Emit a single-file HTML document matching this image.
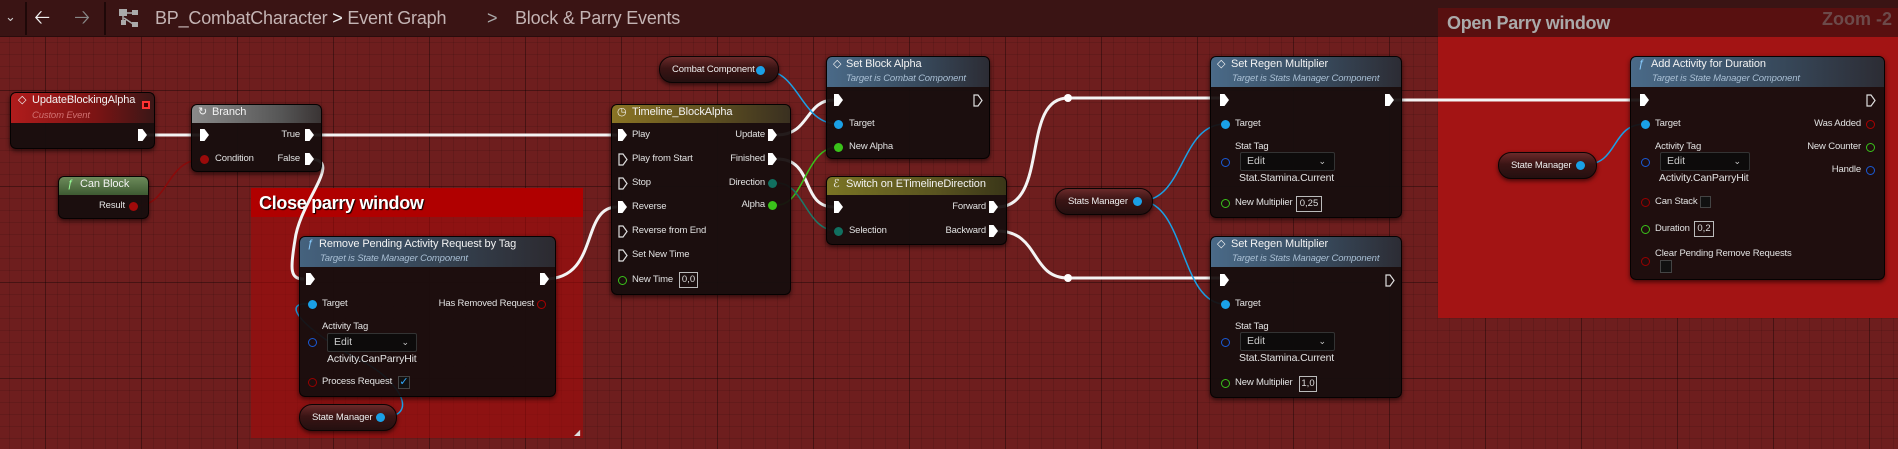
<!DOCTYPE html>
<html><head><meta charset="utf-8"><style>
*{margin:0;padding:0;box-sizing:border-box}
body{width:1898px;height:449px;overflow:hidden;position:relative;font-family:"Liberation Sans",sans-serif;
background-color:#6e1e1e;
background-image:
linear-gradient(90deg,rgba(0,0,0,.28) 0 1px,transparent 1px),
linear-gradient(0deg,rgba(0,0,0,.28) 0 1px,transparent 1px),
linear-gradient(90deg,rgba(0,0,0,.10) 0 1px,transparent 1px),
linear-gradient(0deg,rgba(0,0,0,.10) 0 1px,transparent 1px);
background-size:96px 96px,96px 96px,12px 12px,12px 12px;
background-position:45px 0,0 91px,9px 0,0 7px}
.a{position:absolute}
.top{left:0;top:0;width:1898px;height:37px;background:#3a1414;border-bottom:1px solid #2a0c0c}
.node{position:absolute;background:rgba(22,14,14,.94);border:1px solid #050202;border-radius:6px;box-shadow:0 2px 5px rgba(0,0,0,.6);overflow:hidden}
.hd{position:absolute;left:0;right:0;top:0}
.t{position:absolute;font-size:9.5px;line-height:12px;color:#e2e2e2;white-space:nowrap;letter-spacing:-0.15px}
.ti{position:absolute;font-size:11px;line-height:13px;color:#f2f2f2;white-space:nowrap;letter-spacing:-0.1px}
.st{position:absolute;font-size:9.5px;line-height:12px;font-style:italic;color:#a9bfd4;white-space:nowrap;letter-spacing:-0.15px}
.x{position:absolute;width:9px;height:12px;background:#fff;clip-path:polygon(0 0,50% 0,100% 50%,50% 100%,0 100%)}
.d{position:absolute;width:9px;height:9px;border-radius:50%}
.h{position:absolute;width:9px;height:9px;border-radius:50%;border:1.6px solid}
.box{position:absolute;border:1px solid #bbb;font-size:9.5px;color:#ddd;text-align:center;line-height:14px}
.edit{position:absolute;background:#0d0b0b;border:1px solid #333;border-radius:2px;font-size:10.5px;color:#ccc;line-height:17px;padding-left:6px}
.pill{position:absolute;border-radius:13px;background:linear-gradient(#6a2a2a,#3a1414 45%,#241010);border:1px solid #0a0404;box-shadow:0 2px 4px rgba(0,0,0,.6);font-size:9.5px;letter-spacing:-0.15px;color:#eee;line-height:26px;white-space:nowrap}
.cb{position:absolute;background:#111;border:1px solid #444}
</style></head><body>

<div class="a top"></div>
<div class="a" style="left:5px;top:9px;color:#ccc;font-size:13px">&#8964;</div>
<div class="a" style="left:25px;top:2px;width:2px;height:33px;background:#1e0808"></div>
<div class="a" style="left:34px;top:8px;color:#f0f0f0;font-size:20px;line-height:20px">&#129120;</div>
<div class="a" style="left:74px;top:8px;color:#888;font-size:20px;line-height:20px">&#129122;</div>
<div class="a" style="left:104px;top:2px;width:2px;height:33px;background:#1e0808"></div>
<svg class="a" style="left:118px;top:8px" width="22" height="22"><rect x="1" y="1" width="8" height="7" fill="#aaa"/><rect x="3" y="12" width="5" height="5" fill="#aaa"/><rect x="14" y="2" width="6" height="5" fill="#aaa"/><rect x="14" y="14" width="6" height="5" fill="#aaa"/><path d="M5 8v6M9 5h5M6 10l9 6" stroke="#aaa" stroke-width="1.5" fill="none"/></svg>
<div class="a" style="left:155px;top:7px;font-size:18px;line-height:22px;color:#c4b4b4;white-space:nowrap;letter-spacing:-0.2px">BP_CombatCharacter <span style="color:#eee">&gt;</span> Event Graph</div>
<div class="a" style="left:487px;top:7px;font-size:18px;line-height:22px;color:#aaa">&gt;</div>
<div class="a" style="left:515px;top:7px;font-size:18px;line-height:22px;color:#c4b4b4;white-space:nowrap;letter-spacing:-0.2px">Block &amp; Parry Events</div>

<!-- comments -->
<div class="a" style="left:251px;top:188px;width:332px;height:250px;background:rgba(170,10,10,.55)"></div>
<div class="a" style="left:251px;top:188px;width:332px;height:29px;background:#b00000"></div>
<div class="a" style="left:259px;top:192px;font-size:18px;font-weight:bold;color:#fff;text-shadow:1px 1px 1px #000;line-height:22px;letter-spacing:-0.3px">Close parry window</div>
<div class="a" style="left:574px;top:428px;color:#ddd;font-size:8px">◢</div>

<div class="a" style="left:1438px;top:37px;width:460px;height:281px;background:#a31414"></div>
<div class="a" style="left:1438px;top:8px;width:460px;height:29px;background:#581010"></div>
<div class="a" style="left:1447px;top:12px;font-size:18px;font-weight:bold;color:#aaa;line-height:22px;letter-spacing:-0.3px;white-space:nowrap">Open Parry window</div>
<div class="a" style="left:1822px;top:8px;font-size:18px;font-weight:bold;color:#6c4a4a;line-height:22px;white-space:nowrap">Zoom -2</div>

<!-- wires -->
<svg class="a" style="left:0;top:0" width="1898" height="449" fill="none">
<g stroke="#f4f4f4" stroke-width="3">
<path d="M146,135 H200"/>
<path d="M309,135 H617"/>
<path d="M309,159 C345,159 300,200 295,240 C290,270 290,279 304,279"/>
<path d="M545,279 C600,279 580,207 617,207"/>
<path d="M777,135 C810,135 805,100 834,100"/>
<path d="M777,159 C815,159 800,207 834,207"/>
<path d="M997,207 C1050,207 1020,98 1068,98 H1220"/>
<path d="M997,231 C1040,231 1030,278 1068,278 H1220"/>
<path d="M1393,100 H1640"/>
</g>
<circle cx="1068" cy="98" r="4" fill="#fff"/><circle cx="1068" cy="278" r="4" fill="#fff"/>
<g stroke="#1aa0e6" stroke-width="1.5">
<path d="M763,70 C800,70 800,124 838,124"/>
<path d="M383,417 C420,417 400,380 360,360 C320,340 270,300 312,304" />
<path d="M1140,201 C1185,201 1180,124 1225,124"/>
<path d="M1140,201 C1185,201 1180,304 1225,304"/>
<path d="M1583,165 C1620,165 1610,124 1645,124"/>
</g>
<path d="M777,205 C805,205 805,147 838,147" stroke="#3ac21a" stroke-width="1.5"/>
<path d="M777,183 C805,183 805,231 838,231" stroke="#1a7a6a" stroke-width="1.5"/>
<path d="M136,206 C170,206 165,159 204,159" stroke="#8a0a0a" stroke-width="1.5"/>
</svg>

<!-- UpdateBlockingAlpha -->
<div class="node" style="left:10px;top:92px;width:145px;height:57px">
<div class="hd" style="height:30px;background:linear-gradient(90deg,#b01c1c,#7a1414 60%,#3a1616)"></div></div>
<div class="ti" style="left:18px;top:94px">&#9671;</div>
<div class="ti" style="left:32px;top:94px">UpdateBlockingAlpha</div>
<div class="st" style="left:32px;top:110px;color:#d07070">Custom Event</div>
<div class="a" style="left:142px;top:101px;width:8px;height:8px;border:2px solid #f33;background:#400"></div>
<div class="x" style="left:138px;top:129px"></div>

<!-- Branch -->
<div class="node" style="left:191px;top:104px;width:131px;height:68px">
<div class="hd" style="height:18px;background:linear-gradient(90deg,#8a8a8a,#555 70%,#3a3434)"></div></div>
<div class="ti" style="left:198px;top:106px">&#8635;</div>
<div class="ti" style="left:212px;top:106px">Branch</div>
<div class="x" style="left:200px;top:129px"></div>
<div class="t" style="right:1598px;top:129px">True</div>
<div class="x" style="left:305px;top:129px"></div>
<div class="d" style="left:200px;top:155px;background:#9a0a0a"></div>
<div class="t" style="left:215px;top:153px">Condition</div>
<div class="t" style="right:1598px;top:153px">False</div>
<div class="x" style="left:305px;top:153px"></div>

<!-- Can Block -->
<div class="node" style="left:58px;top:176px;width:91px;height:43px">
<div class="hd" style="height:18px;background:linear-gradient(#6c8a5a,#3e5a32)"></div></div>
<div class="ti" style="left:67px;top:178px;color:#9f9;font-style:italic">ƒ</div>
<div class="ti" style="left:80px;top:178px">Can Block</div>
<div class="t" style="right:1773px;top:200px">Result</div>
<div class="d" style="left:129px;top:202px;background:#a00a0a"></div>

<!-- Remove Pending -->
<div class="node" style="left:299px;top:236px;width:257px;height:161px">
<div class="hd" style="height:30px;background:linear-gradient(90deg,#45627e,#34404e 60%,#2c2a30)"></div></div>
<div class="ti" style="left:307px;top:238px;color:#8cf;font-style:italic">ƒ</div>
<div class="ti" style="left:319px;top:238px">Remove Pending Activity Request by Tag</div>
<div class="st" style="left:320px;top:253px">Target is State Manager Component</div>
<div class="x" style="left:306px;top:273px"></div>
<div class="x" style="left:540px;top:273px"></div>
<div class="d" style="left:308px;top:300px;background:#1aa0e6"></div>
<div class="t" style="left:322px;top:298px">Target</div>
<div class="t" style="right:1364px;top:298px">Has Removed Request</div>
<div class="h" style="left:537px;top:300px;border-color:#a00"></div>
<div class="t" style="left:322px;top:321px">Activity Tag</div>
<div class="h" style="left:308px;top:338px;border-color:#1a5ad6"></div>
<div class="edit" style="left:327px;top:333px;width:90px;height:19px">Edit<span style="position:absolute;right:7px;font-size:9px">&#8964;</span></div>
<div class="t" style="left:327px;top:353px;font-size:10.5px">Activity.CanParryHit</div>
<div class="h" style="left:308px;top:378px;border-color:#900"></div>
<div class="t" style="left:322px;top:376px">Process Request</div>
<div class="cb" style="left:398px;top:376px;width:12px;height:13px;color:#3af;font-size:11px;line-height:11px;text-align:center">✓</div>

<div class="pill" style="left:299px;top:404px;width:98px;height:27px;padding-left:12px">State Manager</div>
<div class="d" style="left:376px;top:413px;background:#1aa0e6"></div>

<!-- Combat Component -->
<div class="pill" style="left:659px;top:56px;width:120px;height:27px;padding-left:12px">Combat Component</div>
<div class="d" style="left:756px;top:66px;background:#1aa0e6"></div>

<!-- Timeline -->
<div class="node" style="left:611px;top:104px;width:180px;height:191px">
<div class="hd" style="height:18px;background:linear-gradient(90deg,#8a7424,#5a4c20 60%,#3a3020)"></div></div>
<div class="ti" style="left:617px;top:106px">&#9719;</div>
<div class="ti" style="left:632px;top:106px">Timeline_BlockAlpha</div>
<div class="x" style="left:618px;top:129px"></div><div class="t" style="left:632px;top:129px">Play</div>
<svg class="a" style="left:618px;top:153px" width="10" height="13"><path d="M1,1H5L9,6.5L5,12H1Z" stroke="#ddd" stroke-width="1.2" fill="none"/></svg><div class="t" style="left:632px;top:153px">Play from Start</div>
<svg class="a" style="left:618px;top:177px" width="10" height="13"><path d="M1,1H5L9,6.5L5,12H1Z" stroke="#ddd" stroke-width="1.2" fill="none"/></svg><div class="t" style="left:632px;top:177px">Stop</div>
<div class="x" style="left:618px;top:201px"></div><div class="t" style="left:632px;top:201px">Reverse</div>
<svg class="a" style="left:618px;top:225px" width="10" height="13"><path d="M1,1H5L9,6.5L5,12H1Z" stroke="#ddd" stroke-width="1.2" fill="none"/></svg><div class="t" style="left:632px;top:225px">Reverse from End</div>
<svg class="a" style="left:618px;top:249px" width="10" height="13"><path d="M1,1H5L9,6.5L5,12H1Z" stroke="#ddd" stroke-width="1.2" fill="none"/></svg><div class="t" style="left:632px;top:249px">Set New Time</div>
<div class="h" style="left:618px;top:276px;border-color:#3ac21a"></div><div class="t" style="left:632px;top:274px">New Time</div>
<div class="box" style="left:679px;top:272px;width:19px;height:16px">0,0</div>
<div class="t" style="right:1133px;top:129px">Update</div><div class="x" style="left:768px;top:129px"></div>
<div class="t" style="right:1133px;top:153px">Finished</div><div class="x" style="left:768px;top:153px"></div>
<div class="t" style="right:1133px;top:177px">Direction</div><div class="d" style="left:768px;top:179px;background:#117060"></div>
<div class="t" style="right:1133px;top:199px">Alpha</div><div class="d" style="left:768px;top:201px;background:#3ac21a"></div>

<!-- Set Block Alpha -->
<div class="node" style="left:826px;top:56px;width:164px;height:103px">
<div class="hd" style="height:30px;background:linear-gradient(90deg,#4a6a88,#37485a 60%,#2c2c34)"></div></div>
<div class="ti" style="left:833px;top:58px">&#9671;</div>
<div class="ti" style="left:846px;top:58px">Set Block Alpha</div>
<div class="st" style="left:846px;top:73px">Target is Combat Component</div>
<div class="x" style="left:834px;top:94px"></div>
<svg class="a" style="left:973px;top:94px" width="10" height="13"><path d="M1,1H5L9,6.5L5,12H1Z" stroke="#ddd" stroke-width="1.2" fill="none"/></svg>
<div class="d" style="left:834px;top:120px;background:#1aa0e6"></div><div class="t" style="left:849px;top:118px">Target</div>
<div class="d" style="left:834px;top:143px;background:#3ac21a"></div><div class="t" style="left:849px;top:141px">New Alpha</div>

<!-- Switch -->
<div class="node" style="left:826px;top:176px;width:181px;height:69px">
<div class="hd" style="height:18px;background:linear-gradient(90deg,#7a7424,#5a5420 60%,#3a3618)"></div></div>
<div class="ti" style="left:833px;top:178px">&#8496;</div>
<div class="ti" style="left:846px;top:178px">Switch on ETimelineDirection</div>
<div class="x" style="left:834px;top:201px"></div>
<div class="d" style="left:834px;top:227px;background:#117060"></div><div class="t" style="left:849px;top:225px">Selection</div>
<div class="t" style="right:912px;top:201px">Forward</div><div class="x" style="left:989px;top:201px"></div>
<div class="t" style="right:912px;top:225px">Backward</div><div class="x" style="left:989px;top:225px"></div>

<!-- Stats Manager -->
<div class="pill" style="left:1055px;top:188px;width:98px;height:27px;padding-left:12px">Stats Manager</div>
<div class="d" style="left:1133px;top:197px;background:#1aa0e6"></div>

<!-- Set Regen 1 -->
<div class="node" style="left:1210px;top:56px;width:192px;height:162px">
<div class="hd" style="height:30px;background:linear-gradient(90deg,#4a6a88,#37485a 60%,#2c2c34)"></div></div>
<div class="ti" style="left:1217px;top:58px">&#9671;</div>
<div class="ti" style="left:1231px;top:58px">Set Regen Multiplier</div>
<div class="st" style="left:1232px;top:73px">Target is Stats Manager Component</div>
<div class="x" style="left:1220px;top:94px"></div><div class="x" style="left:1385px;top:94px"></div>
<div class="d" style="left:1221px;top:120px;background:#1aa0e6"></div><div class="t" style="left:1235px;top:118px">Target</div>
<div class="t" style="left:1235px;top:141px">Stat Tag</div>
<div class="h" style="left:1221px;top:158px;border-color:#1a5ad6"></div>
<div class="edit" style="left:1240px;top:152px;width:95px;height:19px">Edit<span style="position:absolute;right:8px;font-size:9px">&#8964;</span></div>
<div class="t" style="left:1239px;top:172px;font-size:10.5px">Stat.Stamina.Current</div>
<div class="h" style="left:1221px;top:199px;border-color:#3ac21a"></div><div class="t" style="left:1235px;top:197px">New Multiplier</div>
<div class="box" style="left:1296px;top:196px;width:26px;height:16px">0,25</div>

<!-- Set Regen 2 -->
<div class="node" style="left:1210px;top:236px;width:192px;height:162px">
<div class="hd" style="height:30px;background:linear-gradient(90deg,#4a6a88,#37485a 60%,#2c2c34)"></div></div>
<div class="ti" style="left:1217px;top:238px">&#9671;</div>
<div class="ti" style="left:1231px;top:238px">Set Regen Multiplier</div>
<div class="st" style="left:1232px;top:253px">Target is Stats Manager Component</div>
<div class="x" style="left:1220px;top:274px"></div>
<svg class="a" style="left:1385px;top:274px" width="10" height="13"><path d="M1,1H5L9,6.5L5,12H1Z" stroke="#ddd" stroke-width="1.2" fill="none"/></svg>
<div class="d" style="left:1221px;top:300px;background:#1aa0e6"></div><div class="t" style="left:1235px;top:298px">Target</div>
<div class="t" style="left:1235px;top:321px">Stat Tag</div>
<div class="h" style="left:1221px;top:338px;border-color:#1a5ad6"></div>
<div class="edit" style="left:1240px;top:332px;width:95px;height:19px">Edit<span style="position:absolute;right:8px;font-size:9px">&#8964;</span></div>
<div class="t" style="left:1239px;top:352px;font-size:10.5px">Stat.Stamina.Current</div>
<div class="h" style="left:1221px;top:379px;border-color:#3ac21a"></div><div class="t" style="left:1235px;top:377px">New Multiplier</div>
<div class="box" style="left:1299px;top:376px;width:18px;height:16px">1,0</div>

<!-- State Manager 2 -->
<div class="pill" style="left:1498px;top:152px;width:99px;height:27px;padding-left:12px">State Manager</div>
<div class="d" style="left:1576px;top:161px;background:#1aa0e6"></div>

<!-- Add Activity -->
<div class="node" style="left:1630px;top:56px;width:255px;height:224px">
<div class="hd" style="height:30px;background:linear-gradient(90deg,#4a6a88,#37485a 60%,#2c2c34)"></div></div>
<div class="ti" style="left:1638px;top:58px;color:#8cf;font-style:italic">ƒ</div>
<div class="ti" style="left:1651px;top:58px">Add Activity for Duration</div>
<div class="st" style="left:1652px;top:73px">Target is State Manager Component</div>
<div class="x" style="left:1640px;top:94px"></div>
<svg class="a" style="left:1866px;top:94px" width="10" height="13"><path d="M1,1H5L9,6.5L5,12H1Z" stroke="#ddd" stroke-width="1.2" fill="none"/></svg>
<div class="d" style="left:1641px;top:120px;background:#1aa0e6"></div><div class="t" style="left:1655px;top:118px">Target</div>
<div class="t" style="right:37px;top:118px">Was Added</div><div class="h" style="left:1866px;top:120px;border-color:#a00"></div>
<div class="t" style="left:1655px;top:141px">Activity Tag</div>
<div class="t" style="right:37px;top:141px">New Counter</div><div class="h" style="left:1866px;top:143px;border-color:#3ac21a"></div>
<div class="h" style="left:1641px;top:158px;border-color:#1a5ad6"></div>
<div class="edit" style="left:1660px;top:152px;width:90px;height:19px">Edit<span style="position:absolute;right:8px;font-size:9px">&#8964;</span></div>
<div class="t" style="right:37px;top:164px">Handle</div><div class="h" style="left:1866px;top:166px;border-color:#1a5ad6"></div>
<div class="t" style="left:1659px;top:172px;font-size:10.5px">Activity.CanParryHit</div>
<div class="h" style="left:1641px;top:198px;border-color:#900"></div><div class="t" style="left:1655px;top:196px">Can Stack</div>
<div class="cb" style="left:1700px;top:196px;width:11px;height:12px"></div>
<div class="h" style="left:1641px;top:225px;border-color:#3ac21a"></div><div class="t" style="left:1655px;top:223px">Duration</div>
<div class="box" style="left:1694px;top:221px;width:20px;height:16px">0,2</div>
<div class="t" style="left:1655px;top:248px">Clear Pending Remove Requests</div>
<div class="h" style="left:1641px;top:257px;border-color:#900"></div>
<div class="cb" style="left:1660px;top:260px;width:12px;height:13px"></div>

</body></html>
